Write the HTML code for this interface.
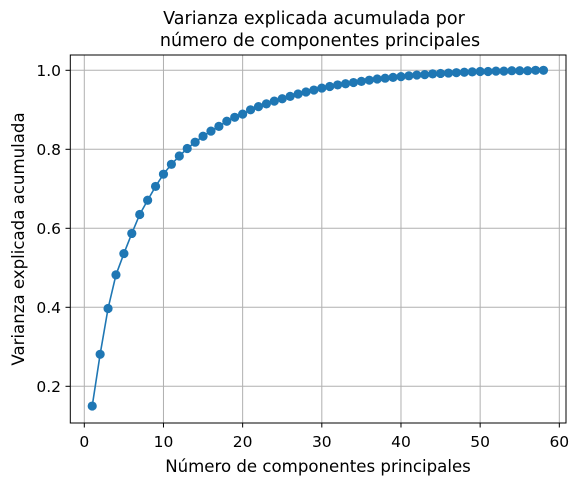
<!DOCTYPE html>
<html><head><meta charset="utf-8"><style>
body{margin:0;background:#fff;}
svg{display:block;font-family:"DejaVu Sans","Liberation Sans",sans-serif;}
</style></head><body>
<svg id="chart" width="579" height="485">
<rect width="579" height="485" fill="#fff"/>
<g id="grid"></g><g id="series"></g><g id="ticks"></g>
<rect x="70.3" y="55" width="495.7" height="368" fill="none" stroke="#000" stroke-width="1"/>
<text x="314" y="24" text-anchor="middle" font-size="17.5">Varianza explicada acumulada por</text>
<text x="320" y="46" text-anchor="middle" font-size="17.5">número de componentes principales</text>
<text x="318" y="472" text-anchor="middle" font-size="16.6">Número de componentes principales</text>
<text transform="translate(24,239) rotate(-90)" text-anchor="middle" font-size="16.6">Varianza explicada acumulada</text>
</svg>
<script>
const components=[];for(let i=1;i<=58;i++)components.push(i);
const cumVariance=[0.150,0.281,0.397,0.482,0.536,0.587,0.635,0.671,0.706,0.737,0.762,0.783,0.802,0.818,0.833,0.846,0.858,0.871,0.881,0.889,0.900,0.908,0.915,0.922,0.928,0.934,0.940,0.945,0.950,0.955,0.959,0.963,0.966,0.969,0.972,0.975,0.978,0.980,0.982,0.984,0.986,0.988,0.989,0.991,0.992,0.993,0.994,0.995,0.996,0.997,0.997,0.998,0.998,0.999,0.999,0.999,1.000,1.000];
const xTicks=[0,10,20,30,40,50,60];
const yTicks=[0.2,0.4,0.6,0.8,1.0];
const NS="http://www.w3.org/2000/svg";
function xs(v){return 84.3+v*7.917;}
function ys(v){return 465.3-v*395;}
function mk(t,a,p){const e=document.createElementNS(NS,t);for(const k in a)e.setAttribute(k,a[k]);p.appendChild(e);return e;}
const grid=document.getElementById('grid'),ticks=document.getElementById('ticks'),ser=document.getElementById('series');
xTicks.forEach(t=>{const x=xs(t);
const g=mk('line',{x1:x,x2:x,y1:55,y2:423,stroke:'#b0b0b0','stroke-width':1},grid);

mk('line',{x1:x,x2:x,y1:423,y2:427.5,stroke:'#000'},ticks);
const l=mk('text',{x:x,y:447,'text-anchor':'middle','font-size':15.5},ticks);l.textContent=t;
});
yTicks.forEach(t=>{const y=ys(t);
const g=mk('line',{x1:70,x2:566,y1:y,y2:y,stroke:'#b0b0b0','stroke-width':1},grid);

mk('line',{x1:65.5,x2:70,y1:y,y2:y,stroke:'#000'},ticks);
const l=mk('text',{x:61,y:y+5.5,'text-anchor':'end','font-size':15.5},ticks);l.textContent=t.toFixed(1);
});
const pts=components.map((c,i)=>xs(c)+','+ys(cumVariance[i])).join(' ');
const pl=mk('polyline',{points:pts,fill:'none',stroke:'#1f77b4','stroke-width':1.6},ser);

components.forEach((c,i)=>{const m=mk('circle',{cx:xs(c),cy:ys(cumVariance[i]),r:4.6,fill:'#1f77b4'},ser);
});
</script>
</body></html>
